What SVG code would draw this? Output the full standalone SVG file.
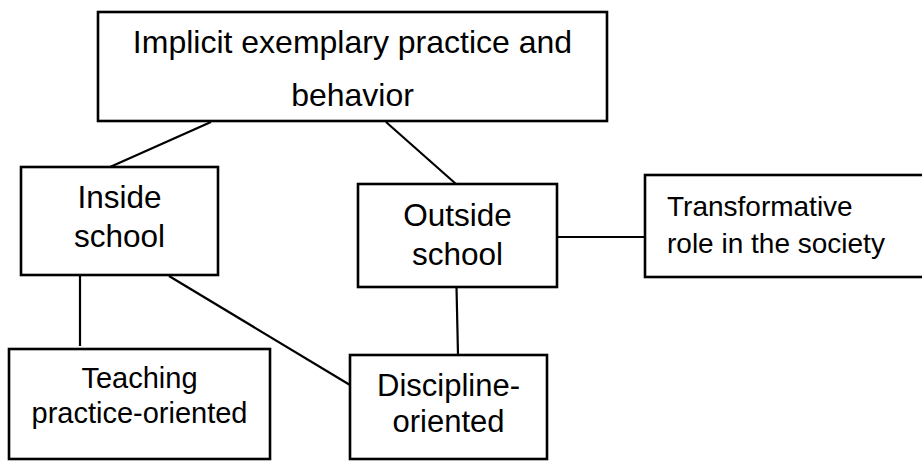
<svg xmlns="http://www.w3.org/2000/svg" width="922" height="462" viewBox="0 0 922 462">
<style>
.box{fill:#fff;stroke:#000;stroke-width:2.6}
.ln{stroke:#000;stroke-width:2.2;fill:none}
text{font-family:"Liberation Sans",Arial,sans-serif;fill:#000}
.c{text-anchor:middle}
</style>
<rect width="922" height="462" fill="#fff"/>
<g id="connectors">
<line class="ln" x1="211" y1="122" x2="110" y2="167"/>
<line class="ln" x1="386" y1="122" x2="456" y2="184"/>
<line class="ln" x1="80" y1="275" x2="80" y2="346"/>
<line class="ln" x1="169" y1="276" x2="350" y2="385"/>
<line class="ln" x1="456.5" y1="287" x2="458" y2="355"/>
<line class="ln" x1="557" y1="237" x2="645" y2="237"/>
</g>
<g id="top">
<rect class="box" x="98" y="12" width="509" height="109"/>
<text class="c" x="352.5" y="53" font-size="32">Implicit exemplary practice and</text>
<text class="c" x="352.5" y="106" font-size="32">behavior</text>
</g>
<g id="inside">
<rect class="box" x="21" y="167" width="197" height="108"/>
<text class="c" x="119.5" y="208" font-size="31.5">Inside</text>
<text class="c" x="119.5" y="247" font-size="31.5">school</text>
</g>
<g id="outside">
<rect class="box" x="358" y="184" width="199" height="103"/>
<text class="c" x="457.5" y="226" font-size="31.5">Outside</text>
<text class="c" x="457.5" y="265" font-size="31.5">school</text>
</g>
<g id="transformative">
<rect class="box" x="645" y="175" width="280" height="102"/>
<text x="667" y="216" font-size="28">Transformative</text>
<text x="667" y="253" font-size="28">role in the society</text>
</g>
<g id="teaching">
<rect class="box" x="9" y="349" width="261" height="110"/>
<text class="c" x="139.5" y="388" font-size="29">Teaching</text>
<text class="c" x="139.5" y="423" font-size="29">practice-oriented</text>
</g>
<g id="discipline">
<rect class="box" x="350" y="355" width="197" height="104"/>
<text class="c" x="448.5" y="396" font-size="31">Discipline-</text>
<text class="c" x="448.5" y="432" font-size="31">oriented</text>
</g>
</svg>
